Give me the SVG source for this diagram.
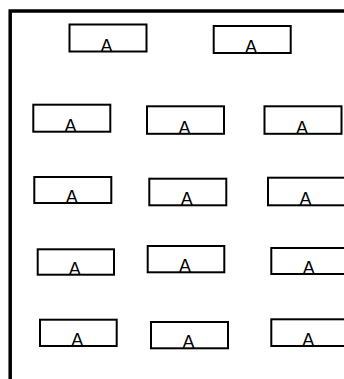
<svg xmlns="http://www.w3.org/2000/svg" width="344" height="379" viewBox="0 0 344 379">
<style>
.box{fill:#fff;stroke:#000;stroke-width:2}
.lbl{font-family:"Liberation Sans",Arial,sans-serif;font-size:18px;fill:#000;text-anchor:middle}
.frame{fill:none;stroke:#000;stroke-width:3.5}
</style>
<rect width="344" height="379" fill="#fff"/>
<path class="frame" d="M10.2 379 V11 H344"/>
<g id="n1"><rect class="box" x="69.5" y="24.5" width="77" height="27"/><text class="lbl" x="106.5" y="51.5">A</text></g>
<g id="n2"><rect class="box" x="213.7" y="26" width="77" height="27"/><text class="lbl" x="251" y="53">A</text></g>
<g id="n3"><rect class="box" x="33.3" y="104.7" width="77" height="27"/><text class="lbl" x="70.5" y="131.7">A</text></g>
<g id="n4"><rect class="box" x="147" y="106.3" width="77" height="27.5"/><text class="lbl" x="184.5" y="133.8">A</text></g>
<g id="n5"><rect class="box" x="264.5" y="106.3" width="77" height="27.5"/><text class="lbl" x="302" y="133.8">A</text></g>
<g id="n6"><rect class="box" x="34.3" y="177" width="77" height="26"/><text class="lbl" x="71.8" y="203">A</text></g>
<g id="n7"><rect class="box" x="149.3" y="178.7" width="77" height="26.6"/><text class="lbl" x="186.8" y="205.3">A</text></g>
<g id="n8"><rect class="box" x="268" y="177.7" width="77" height="27.6"/><text class="lbl" x="305.5" y="205.3">A</text></g>
<g id="n9"><rect class="box" x="37.7" y="249.3" width="76.3" height="25.4"/><text class="lbl" x="74.8" y="274.7">A</text></g>
<g id="n10"><rect class="box" x="147.7" y="246" width="76.6" height="26.3"/><text class="lbl" x="185" y="272.3">A</text></g>
<g id="n11"><rect class="box" x="271.3" y="248" width="77" height="26"/><text class="lbl" x="308.8" y="274">A</text></g>
<g id="n12"><rect class="box" x="40" y="319.7" width="76.7" height="26.3"/><text class="lbl" x="77.3" y="346">A</text></g>
<g id="n13"><rect class="box" x="151" y="322" width="77" height="26.3"/><text class="lbl" x="188.5" y="348.3">A</text></g>
<g id="n14"><rect class="box" x="271.3" y="319.3" width="77" height="26.7"/><text class="lbl" x="308.3" y="346">A</text></g>
<g id="connectors"></g>
</svg>
